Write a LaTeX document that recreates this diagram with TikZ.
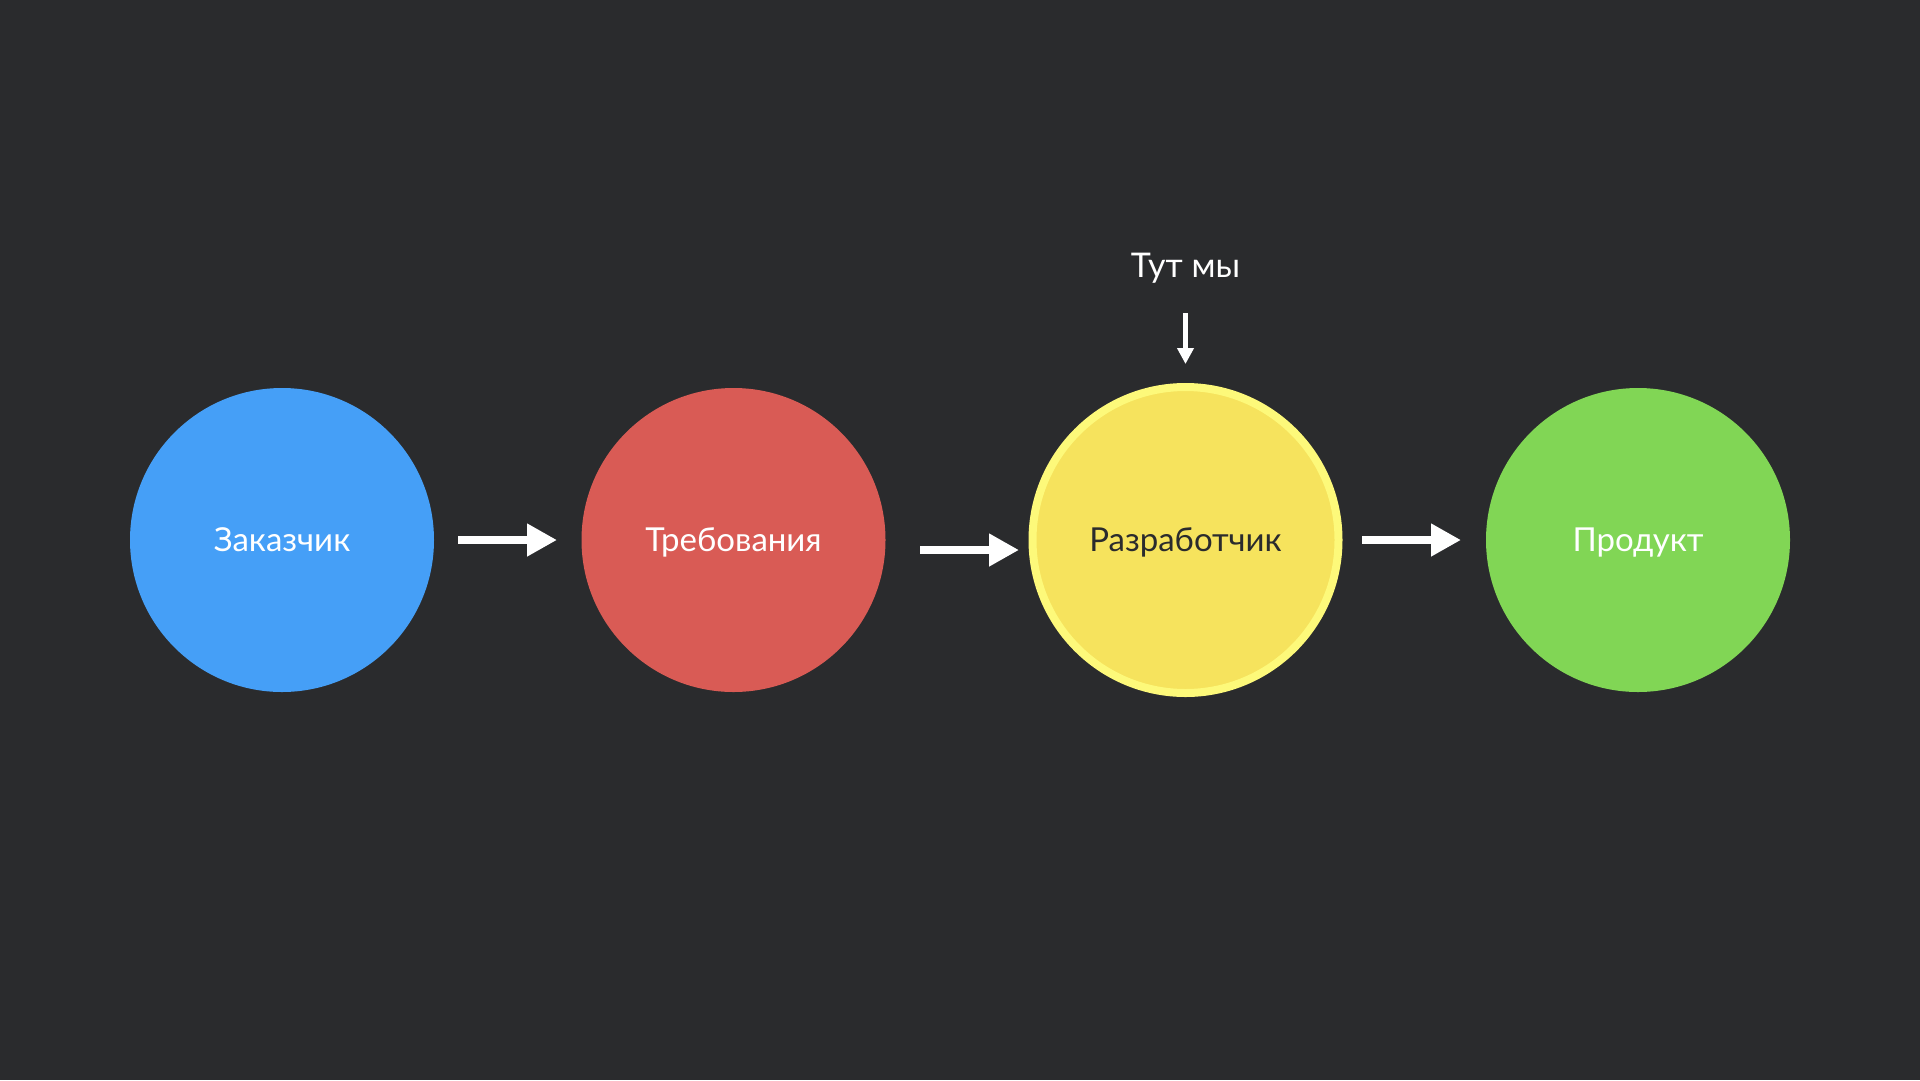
\documentclass[tikz,border=0pt]{standalone}
\usepackage{fontspec}
\setmainfont{Lato}
\usetikzlibrary{arrows.meta}
\definecolor{bg}{HTML}{2A2B2D}
\definecolor{cblue}{HTML}{459FF7}
\definecolor{cred}{HTML}{D95B55}
\definecolor{cyel}{HTML}{F6E35D}
\definecolor{cyelb}{HTML}{FDF97A}
\definecolor{cgreen}{HTML}{81D655}
\begin{document}
\begin{tikzpicture}[x=1pt,y=-1pt,
  stage/.style={circle,inner sep=0pt,outer sep=0pt,minimum size=304pt},
  lbl/.style={anchor=base,inner sep=0pt,font=\fontsize{33}{36}\selectfont},
  bigarrow/.style={draw=white,line width=8pt,-{Triangle[length=30pt,width=31pt]}},
  smallarrow/.style={draw=white,line width=4.5pt,-{Triangle[length=16pt,width=16pt]}}]
\fill[bg] (0,0) rectangle (1920,1080);
\useasboundingbox (0,0) rectangle (1920,1080);
\node[stage,fill=cblue] (blue) at (282,540) {};
\node[stage,fill=cred] (red) at (733.5,540) {};
\node[stage,fill=cyel,draw=cyelb,line width=8pt,minimum size=306pt] (yellow) at (1185.5,540) {};
\node[stage,fill=cgreen] (green) at (1638,540) {};
\node[lbl,text=white] (tblue) at (282,551) {Заказчик};
\node[lbl,text=white] (tred) at (733.5,551) {Требования};
\node[lbl,text=bg] (tyel) at (1185.5,551) {Разработчик};
\node[lbl,text=white] (tgreen) at (1638,551) {Продукт};
\node[lbl,text=white,font=\fontsize{34}{38}\selectfont] (here) at (1185.5,277.7) {Тут мы};
\coordinate (hstart) at (1185.5,313);
\draw[bigarrow,shorten <=24pt,shorten >=24.5pt] (blue.east) -- (red.west);
\draw[bigarrow,shorten <=34.5pt,shorten >=13.5pt] ([yshift=-10pt]red.east) -- ([yshift=-10pt]yellow.west);
\draw[bigarrow,shorten <=23.5pt,shorten >=25pt] (yellow.east) -- (green.west);
\draw[smallarrow,shorten >=23pt] (hstart) -- (yellow.north);
\end{tikzpicture}
\end{document}
